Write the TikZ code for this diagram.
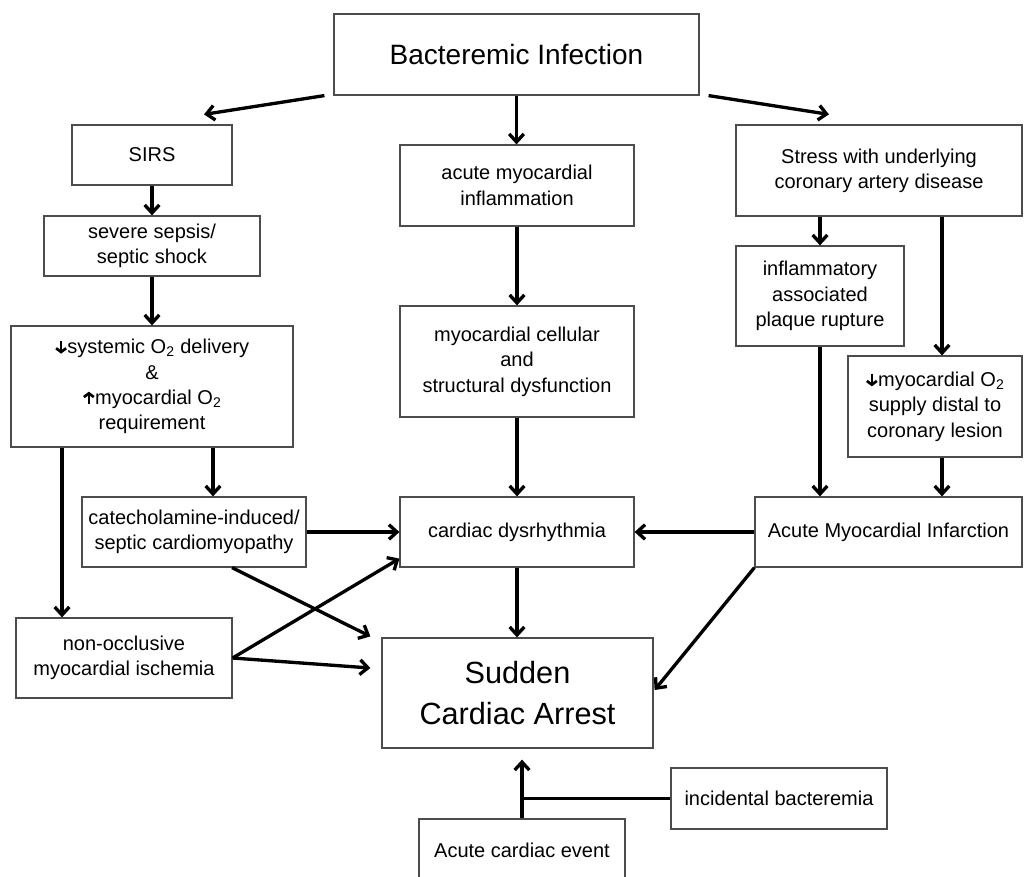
\documentclass[tikz,border=0pt]{standalone}
\usepackage{fontspec}
\setmainfont{Liberation Sans}
\usetikzlibrary{arrows.meta,calc}
\newcommand{\arrdown}{\tikz[baseline=0pt]\draw[line width=2pt,-{Straight Barb[length=2.8pt,width=7.5pt]}] (0pt,9.5pt) -- (0pt,0pt);}
\newcommand{\arrup}{\tikz[baseline=0pt]\draw[line width=2pt,-{Straight Barb[length=2.8pt,width=7.5pt]}] (0pt,0pt) -- (0pt,9.5pt);}

\begin{document}
\begin{tikzpicture}[x=0.75pt,y=-0.75pt,
	box/.style={draw=black!70,line width=0.9pt,fill=white,align=center,inner sep=0pt,font=\fontsize{15}{19}\selectfont},
	arr/.style={line width=2.5pt,-{Straight Barb[length=6pt,width=11pt]}}]
	\useasboundingbox (0,0) rectangle (1024,877);
	\clip (0,0) rectangle (1024,877);
			\node[box,minimum width=273.75pt,minimum height=60.75pt,font=\fontsize{21}{25}\selectfont](infect)	at (516.5,54.5)	{Bacteremic Infection};
			\node[box,minimum width=120pt,minimum height=45pt](sirs)				at (152,155)		{SIRS};
			\node[box,minimum width=162pt,minimum height=45pt](sepsis)			at (152,246)		{severe sepsis/\\septic shock};
			\node[box,minimum width=211.5pt,minimum height=90.75pt](systemic)	at (152,386.5)	{\arrdown systemic O\textsubscript{2} delivery\\\&\\\arrup myocardial O\textsubscript{2}\\requirement};
			\node[box,minimum width=168pt,minimum height=52.5pt](catechol)		at (194,532)		{catecholamine-induced/\\septic cardiomyopathy};
			\node[box,minimum width=162pt,minimum height=60pt](ischemia)		at (124,658)		{non-occlusive\\myocardial ischemia};
			\node[box,minimum width=175.5pt,minimum height=60.75pt](inflam)		at (517,185.5)	{acute myocardial\\inflammation};
			\node[box,minimum width=175.5pt,minimum height=83.25pt](cellular)	at (517,361.5)	{myocardial cellular\\and\\structural dysfunction};
			\node[box,minimum width=175.5pt,minimum height=52.5pt](dysrhythmia)	at (517,532)		{cardiac dysrhythmia};
			\node[box,minimum width=203.25pt,minimum height=82.5pt,font=\fontsize{23}{30.5}\selectfont](sca)	at (517.5,693)	{Sudden\\Cardiac Arrest};
			\node[box,minimum width=214.5pt,minimum height=68.25pt](stress)		at (879,170.5)	{Stress with underlying\\coronary artery disease};
			\node[box,minimum width=126pt,minimum height=75pt](plaque)			at (820,296)		{inflammatory\\associated\\plaque rupture};
			\node[box,minimum width=130.5pt,minimum height=75.75pt](supply)		at (935,406.5)	{\arrdown myocardial O\textsubscript{2}\\supply distal to\\coronary lesion};
			\node[box,minimum width=200.25pt,minimum height=52.5pt](ami)		at (888.5,532)	{Acute Myocardial Infarction};
			\node[box,minimum width=162pt,minimum height=45.75pt](incidental)	at (779,798.5)	{incidental bacteremia};
			\node[box,minimum width=154.5pt,minimum height=46.5pt](event)		at (522,850)		{Acute cardiac event};
			\coordinate(supplyin)	at ($(supply.north)+(7,0)$);
			\coordinate(supplyout)	at ($(supply.south)+(7,0)$);
			\draw[arr]($(infect.south west)+(-9,0)$)	-- ($(sirs.north)+(52,-10)$);
			\draw[arr]($(infect.south east)+(9,0)$)	-- ($(stress.north)+(-50,-10)$);
			\draw[arr](infect.south)		-- (infect.south |- inflam.north);
			\draw[arr](inflam.south)		-- (cellular.north);
			\draw[arr](cellular.south)		-- (dysrhythmia.north);
			\draw[arr](dysrhythmia.south)	-- (dysrhythmia.south |- sca.north);
			\draw[arr](sirs.south)			-- (sepsis.north);
			\draw[arr](sepsis.south)		-- (systemic.north);
			\draw[arr]($(systemic.south)+(61,0)$)	-- ($(catechol.north)+(19,0)$);
			\draw[arr]($(systemic.south)+(-90,0)$)	-- ($(ischemia.north)+(-62,0)$);
			\draw[arr](catechol.east)		-- (dysrhythmia.west);
			\draw[arr](ischemia.east)		-- ($(dysrhythmia.south west)+(0,-9)$);
			\draw[arr]($(catechol.south)+(38,0)$)	-- ($(sca.north west)+(-11,-1)$);
			\draw[arr](ischemia.east)		-- ($(sca.west)+(-11,-25)$);
			\draw[arr](ami.west)			-- (dysrhythmia.east);
			\draw[arr](ami.south west)		-- ($(sca.east)+(1,-3)$);
			\draw[arr](stress.south -| plaque.north)	-- (plaque.north);
			\draw[arr](stress.south -| supplyin)		-- (supplyin);
			\draw[arr](plaque.south)		-- (plaque.south |- ami.north);
			\draw[arr](supplyout)			-- (supplyout |- ami.north);
			\draw[arr](event.north)			-- ($(event.north |- sca.south)+(0,11)$);
			\draw[line width=2.5pt](incidental.west)	-- (incidental.west -| event.north);
		\end{tikzpicture}
\end{document}
